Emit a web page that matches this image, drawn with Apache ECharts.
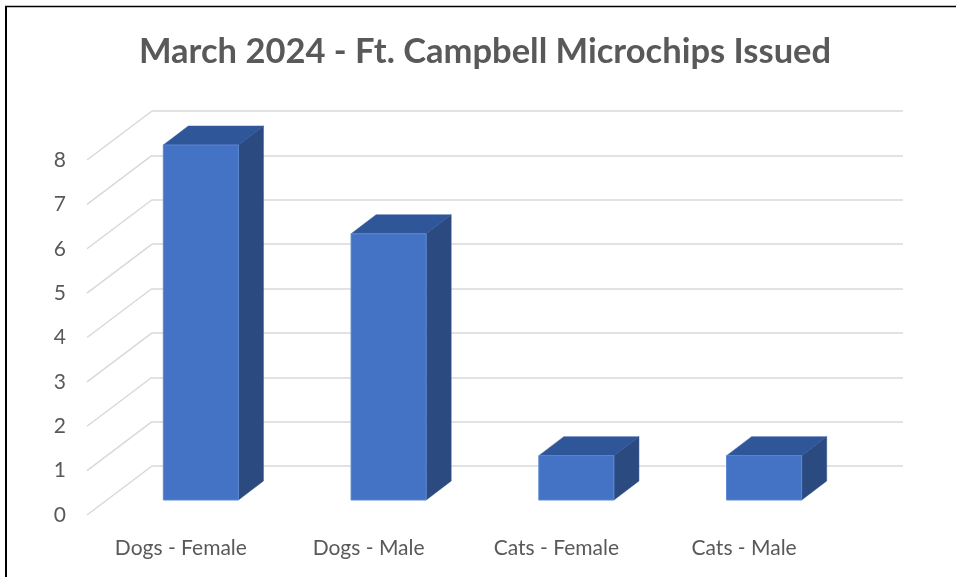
<!DOCTYPE html>
<html>
<head>
<meta charset="utf-8">
<script src="https://cdn.jsdelivr.net/npm/echarts@6/dist/echarts.min.js"></script>
<style>
  html, body { margin: 0; padding: 0; background: #ffffff; }
  #chart { width: 956px; height: 577px; }
</style>
</head>
<body>
<div id="chart"></div>
<script>
const titleText = 'March 2024 - Ft. Campbell Microchips Issued';
const categories = ['Dogs - Female', 'Dogs - Male', 'Cats - Female', 'Cats - Male'];
const microchips = [8, 6, 1, 1];
const yTicks = [0, 1, 2, 3, 4, 5, 6, 7, 8];

const FONT = 'Lato';
const TEXT_COLOR = '#595959';
const GRID_COLOR = '#D9D9D9';

// projection offsets (pixels) relative to the bars' front plane
const BACK = [45, -34];
const FRONT = [-20, 15];
const DEPTH = [25, -19];

const chart = echarts.init(document.getElementById('chart'), null, { renderer: 'canvas' });

function renderBar(params, api) {
  const idx = api.value(0);
  const v = api.value(1);
  const top = api.coord([idx, v]);
  const base = api.coord([idx, 0]);
  const band = api.size([1, 0])[0];
  const w = band * 0.4;
  const xl = top[0] - w / 2, xr = top[0] + w / 2;
  const yt = top[1], yb = base[1];
  const dx = DEPTH[0], dy = DEPTH[1];
  return {
    type: 'group',
    children: [
      { type: 'polygon', shape: { points: [[xr, yt], [xr + dx, yt + dy], [xr + dx, yb + dy], [xr, yb]] },
        style: { fill: '#2B4A80', stroke: '#2B4A80', lineWidth: 0.5 } },
      { type: 'polygon', shape: { points: [[xl, yt], [xr, yt], [xr + dx, yt + dy], [xl + dx, yt + dy]] },
        style: { fill: '#30569A', stroke: '#30569A', lineWidth: 0.5 } },
      { type: 'rect', shape: { x: xl, y: yt, width: w, height: yb - yt },
        style: { fill: '#4472C4', stroke: '#5B87D2', lineWidth: 1 } }
    ]
  };
}

function renderDiag(params, api) {
  const v = api.value(1);
  const y = api.coord([0, v])[1];
  const x0 = params.coordSys.x;
  return {
    type: 'line',
    shape: { x1: x0 + FRONT[0], y1: y + FRONT[1], x2: x0 + BACK[0], y2: y + BACK[1] },
    style: { stroke: GRID_COLOR, lineWidth: 1.5 }
  };
}

const L = 107, R = 858, T = 145, B = 500, W = 956, H = 577;

const option = {
  backgroundColor: '#ffffff',
  animation: false,
  title: {
    text: titleText,
    left: 485,
    textAlign: 'center',
    top: 34,
    padding: 0,
    textStyle: { fontFamily: FONT, fontWeight: 'bold', fontSize: 34.5, color: TEXT_COLOR }
  },
  graphic: [
    { type: 'line', shape: { x1: 5, y1: 6.5, x2: 956, y2: 6.5 }, style: { stroke: '#000', lineWidth: 1.5 } },
    { type: 'line', shape: { x1: 6, y1: 6, x2: 6, y2: 577 }, style: { stroke: '#000', lineWidth: 2 } }
  ],
  grid: [
    // bars' front plane
    { left: L, right: W - R, top: T, bottom: H - B },
    // front edge (labels)
    { left: L + FRONT[0], right: W - R - FRONT[0], top: T + FRONT[1], bottom: H - B - FRONT[1] },
    // back wall
    { left: L + BACK[0], right: W - R - BACK[0], top: T + BACK[1], bottom: H - B - BACK[1] }
  ],
  xAxis: [
    { gridIndex: 0, type: 'category', data: categories, show: false },
    { gridIndex: 1, type: 'category', data: categories,
      axisLine: { show: false }, axisTick: { show: false }, splitLine: { show: false },
      axisLabel: { margin: 23, fontFamily: FONT, fontSize: 21, color: TEXT_COLOR } },
    { gridIndex: 2, type: 'category', data: categories, show: false }
  ],
  yAxis: [
    { gridIndex: 0, type: 'value', min: 0, max: 8, interval: 1, show: false },
    { gridIndex: 1, type: 'value', min: 0, max: 8, interval: 1,
      axisLine: { show: false }, axisTick: { show: false }, splitLine: { show: false },
      axisLabel: { margin: 21, fontFamily: FONT, fontSize: 21, color: TEXT_COLOR } },
    { gridIndex: 2, type: 'value', min: 0, max: 8, interval: 1,
      axisLine: { show: false }, axisTick: { show: false }, axisLabel: { show: false },
      splitLine: { show: true, lineStyle: { color: GRID_COLOR, width: 1.5 } } }
  ],
  series: [
    { type: 'custom', xAxisIndex: 0, yAxisIndex: 0, z: 1, silent: true,
      renderItem: renderDiag, data: yTicks.map(v => [0, v]) },
    { type: 'custom', xAxisIndex: 0, yAxisIndex: 0, z: 5,
      renderItem: renderBar, data: microchips.map((v, i) => [i, v]) }
  ]
};

chart.setOption(option);
</script>
</body>
</html>
